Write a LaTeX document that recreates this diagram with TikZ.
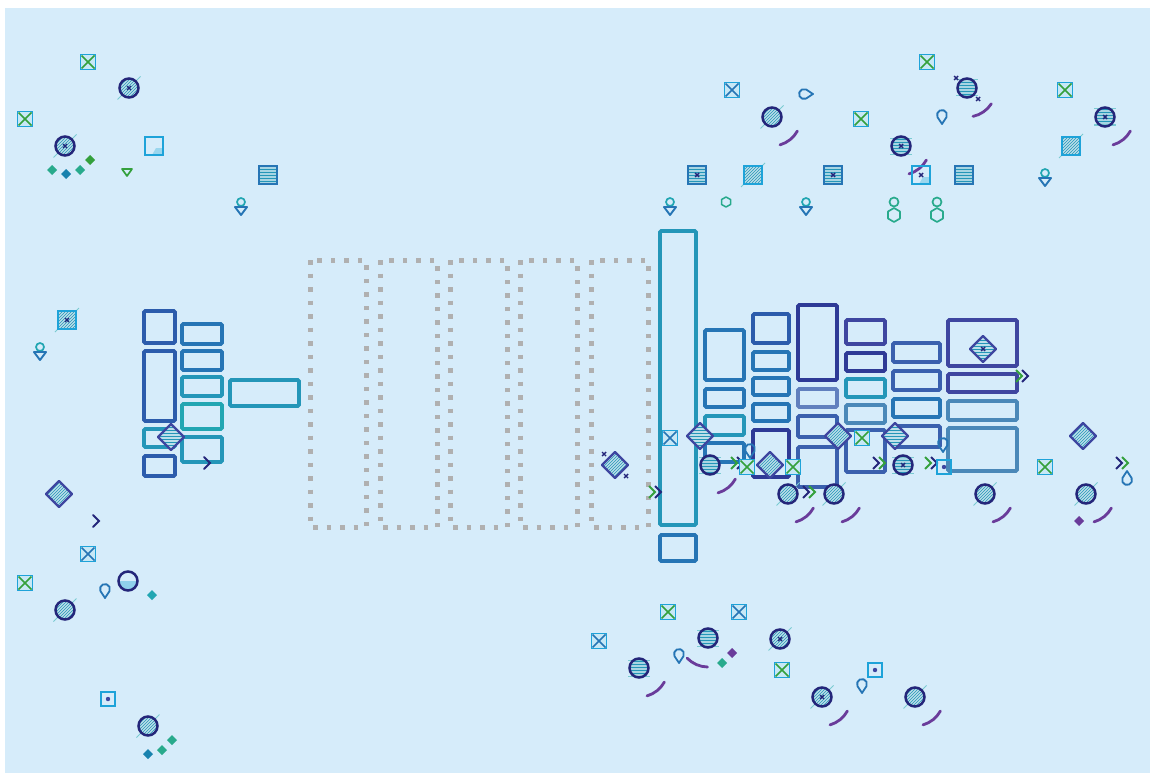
\documentclass[tikz,border=0pt]{standalone}
\usepackage{xcolor}
\usepackage{tikz}
\usetikzlibrary{patterns}
\definecolor{bg}{RGB}{214, 236, 250}
\definecolor{navy}{RGB}{36, 38, 122}
\definecolor{royal}{RGB}{44, 92, 172}
\definecolor{steel}{RGB}{38, 117, 181}
\definecolor{teal}{RGB}{36, 150, 184}
\definecolor{aqua}{RGB}{34, 166, 178}
\definecolor{cobalt}{RGB}{58, 96, 174}
\definecolor{indigo}{RGB}{62, 70, 160}
\definecolor{deep}{RGB}{46, 58, 150}
\definecolor{slate}{RGB}{74, 136, 184}
\definecolor{plum}{RGB}{106, 60, 154}
\definecolor{leaf}{RGB}{52, 160, 60}
\definecolor{jade}{RGB}{40, 170, 140}
\definecolor{cyanbox}{RGB}{30, 163, 217}
\definecolor{dotgrey}{RGB}{176, 176, 176}
\tikzstyle{blk} = [line width=3.6pt, rounded corners=1.2pt]
\tikzstyle{lane} = [draw=dotgrey, line width=5pt, dash pattern=on 4.5pt off 9pt]
\tikzset{
  xmark/.pic={
    \fill[cyanbox!25] (-7.5,-7.5) rectangle (7.5,7.5);
    \draw[cyanbox, line width=1.7pt] (-7.5,-7.5) rectangle (7.5,7.5);
    \draw[#1, line width=1.7pt] (-6.5,-6.5) -- (6.5,6.5) (-6.5,6.5) -- (6.5,-6.5);
  },
  disc/.pic={
    \fill[teal!30] (0,0) circle (9.5);
    \fill[pattern=north east lines, pattern color=teal] (0,0) circle (9.5);
    \draw[aqua!60, line width=1pt] (7,-7) -- (11.5,-11.5) (-7,7) -- (-11.5,11.5);
    \draw[navy, line width=2.5pt] (0,0) circle (9.5);
  },
  bands/.pic={
    \fill[teal!40] (0,0) circle (9.5);
    \fill[pattern=horizontal lines, pattern color=teal] (0,0) circle (9.5);
    \draw[aqua!60, line width=1pt] (-11,-8) -- (11,-8) (-11,8) -- (11,8);
    \draw[navy, line width=2.5pt] (0,0) circle (9.5);
  },
  halfdisc/.pic={
    \fill[cyanbox!50] (9.5,0) arc[start angle=0, end angle=180, radius=9.5] -- cycle;
    \draw[navy, line width=2.5pt] (0,0) circle (9.5);
  },
  speck/.pic={
    \draw[navy, line width=1.4pt] (-2,-2) -- (2,2) (-2,2) -- (2,-2);
  },
  tail/.pic={
    \draw[plum, line width=2.8pt, line cap=round] (#1:29) arc[start angle=#1, delta angle=-45, radius=29];
  },
  gem/.pic={
    \fill[teal!30] (0,-13) -- (13,0) -- (0,13) -- (-13,0) -- cycle;
    \fill[pattern=#1, pattern color=teal] (0,-13) -- (13,0) -- (0,13) -- (-13,0) -- cycle;
    \draw[indigo, line width=2.4pt, line join=round] (0,-13) -- (13,0) -- (0,13) -- (-13,0) -- cycle;
  },
  pics/chev/.style 2 args={code={
    \draw[#1, line width=2pt] (-7,-6) -- (-1,0) -- (-7,6);
    \draw[#2, line width=2pt] (-1,-6) -- (5,0) -- (-1,6);
  }},
  hook/.pic={
    \draw[navy, line width=2pt, line cap=round] (-3,-6) -- (3,0) -- (-3,6);
  },
  pin/.pic={
    \draw[steel, line width=1.8pt, line join=round] (0,8) -- (-4.6,1) arc[start angle=156.5, end angle=383.5, radius=5] -- cycle;
  },
  chip/.pic={
    \fill[#1] (0,-5) -- (5,0) -- (0,5) -- (-5,0) -- cycle;
  },
  vee/.pic={
    \draw[leaf, line width=1.7pt, line join=round] (-5,-3) -- (5,-3) -- (0,4) -- cycle;
  },
  beacon/.pic={
    \draw[aqua, line width=1.7pt] (0,-5) circle (4);
    \draw[steel, line width=1.9pt, line join=round] (-6,0) -- (6,0) -- (0,8) -- cycle;
  },
  twin/.pic={
    \draw[jade, line width=1.7pt] (0,-6) circle (4.5);
    \draw[jade, line width=1.7pt, line join=round] (-6,3.5) -- (0,0) -- (6,3.5) -- (6,10.5) -- (0,14) -- (-6,10.5) -- cycle;
  },
  hexlet/.pic={
    \draw[jade, line width=1.5pt, line join=round] (-4.5,-2.5) -- (0,-5) -- (4.5,-2.5) -- (4.5,2.5) -- (0,5) -- (-4.5,2.5) -- cycle;
  },
  sqhatch/.pic={
    \fill[teal!30] (-9,-9) rectangle (9,9);
    \fill[pattern=north east lines, pattern color=teal] (-9,-9) rectangle (9,9);
    \draw[aqua!60, line width=1pt] (8,-8) -- (12,-12) (-8,8) -- (-12,12);
    \draw[cyanbox, line width=2.3pt] (-9,-9) rectangle (9,9);
  },
  sqband/.pic={
    \fill[teal!40] (-9,-9) rectangle (9,9);
    \fill[pattern=horizontal lines, pattern color=teal] (-9,-9) rectangle (9,9);
    \draw[steel, line width=2.3pt] (-9,-9) rectangle (9,9);
  },
  sqnook/.pic={
    \fill[cyanbox!45] (-2,9) -- (2,2) -- (9,2) -- (9,9) -- cycle;
    \draw[cyanbox, line width=2.3pt] (-9,-9) rectangle (9,9);
  },
  sqdot/.pic={
    \draw[cyanbox, line width=2.1pt] (-7,-7) rectangle (7,7);
    \fill[indigo] (0,0) circle (2.2);
  }
}
\begin{document}
\begin{tikzpicture}[x=1pt, y=-1pt]
    \useasboundingbox (0,0) rectangle (1150,773);
    \fill[bg] (5,8) rectangle (1150,773);

    % Left stack
    \draw[blk, royal] (144,311) rectangle (175,343);
    \draw[blk, royal] (144,351) rectangle (175,421);
    \draw[blk, teal] (144,429) rectangle (175,447);
    \draw[blk, royal] (144,456) rectangle (175,476);
    \draw[blk, steel] (182,324) rectangle (222,344);
    \draw[blk, steel] (182,351) rectangle (222,370);
    \draw[blk, teal] (182,377) rectangle (222,396);
    \draw[blk, aqua] (182,404) rectangle (222,429);
    \draw[blk, teal] (182,437) rectangle (222,462);
    \draw[blk, teal] (230,380) rectangle (299,406);

    % Dotted lanes
    \draw[lane] (310,260) rectangle (366,527);
    \draw[lane] (380,260) rectangle (437,527);
    \draw[lane] (450,260) rectangle (507,527);
    \draw[lane] (520,260) rectangle (577,527);
    \draw[lane] (591,260) rectangle (648,527);

    % Right stacks
    \draw[blk, teal] (660,231) rectangle (696,525);
    \draw[blk, steel] (660,535) rectangle (696,561);
    \draw[blk, steel] (705,330) rectangle (744,380);
    \draw[blk, steel] (705,389) rectangle (744,407);
    \draw[blk, teal] (705,416) rectangle (744,435);
    \draw[blk, steel] (705,443) rectangle (744,462);
    \draw[blk, royal] (753,314) rectangle (789,343);
    \draw[blk, steel] (753,352) rectangle (789,370);
    \draw[blk, steel] (753,378) rectangle (789,395);
    \draw[blk, steel] (753,404) rectangle (789,421);
    \draw[blk, deep] (753,430) rectangle (789,477);
    \draw[blk, deep] (798,305) rectangle (837,380);
    \draw[blk, cobalt!80] (798,389) rectangle (837,407);
    \draw[blk, cobalt] (798,416) rectangle (837,437);
    \draw[blk, cobalt] (798,447) rectangle (837,487);
    \draw[blk, indigo] (846,320) rectangle (885,344);
    \draw[blk, deep] (846,353) rectangle (885,371);
    \draw[blk, teal] (846,379) rectangle (885,397);
    \draw[blk, slate] (846,405) rectangle (885,423);
    \draw[blk, cobalt] (846,430) rectangle (885,472);
    \draw[blk, cobalt] (893,343) rectangle (940,362);
    \draw[blk, cobalt] (893,371) rectangle (940,390);
    \draw[blk, steel] (893,399) rectangle (940,417);
    \draw[blk, cobalt] (893,426) rectangle (940,447);
    \draw[blk, indigo] (948,320) rectangle (1017,366);
    \draw[blk, indigo] (948,374) rectangle (1017,392);
    \draw[blk, slate] (948,401) rectangle (1017,420);
    \draw[blk, slate] (948,428) rectangle (1017,471);

    % Marks, top left
    \pic at (88,62) {xmark=leaf};
    \pic at (129,88) {disc}; \pic at (129,88) {speck};
    \pic at (25,119) {xmark=leaf};
    \pic at (65,146) {disc}; \pic at (65,146) {speck};
    \pic at (154,146) {sqnook};
    \pic at (52,170) {chip=jade};
    \pic at (66,174) {chip=cyanbox!80!black};
    \pic at (80,170) {chip=jade};
    \pic at (90,160) {chip=leaf};
    \pic at (127,172) {vee};
    \pic at (268,175) {sqband};
    \pic at (241,207) {beacon};

    % Marks, left
    \pic at (67,320) {sqhatch}; \pic at (67,320) {speck};
    \pic at (40,352) {beacon};
    \pic at (171,437) {gem=horizontal lines};
    \pic at (207,463) {hook};
    \pic at (59,494) {gem=north east lines};
    \pic at (96,521) {hook};
    \pic at (88,554) {xmark=steel};
    \pic at (25,583) {xmark=leaf};
    \pic at (105,590) {pin};
    \pic at (128,581) {halfdisc};
    \pic at (152,595) {chip=aqua};
    \pic at (65,610) {disc};
    \pic at (108,699) {sqdot};
    \pic at (148,726) {disc};
    \pic at (148,754) {chip=cyanbox!80!black};
    \pic at (162,750) {chip=jade};
    \pic at (172,740) {chip=jade};

    % Marks, top right
    \pic at (732,90) {xmark=steel};
    \pic at (772,117) {disc}; \pic at (772,117) {tail=74};
    \pic[rotate=90] at (805,94) {pin};
    \pic at (861,119) {xmark=leaf};
    \pic at (927,62) {xmark=leaf};
    \pic at (967,88) {bands}; \pic at (967,88) {tail=78};
    \pic at (956,78) {speck}; \pic at (978,99) {speck};
    \pic at (942,116) {pin};
    \pic at (901,146) {bands}; \pic at (901,146) {speck}; \pic at (901,146) {tail=74};
    \pic at (1065,90) {xmark=leaf};
    \pic at (1105,117) {bands}; \pic at (1105,117) {speck}; \pic at (1105,117) {tail=74};
    \pic at (1071,146) {sqhatch};
    \pic at (697,175) {sqband}; \pic at (697,175) {speck};
    \pic at (753,175) {sqhatch};
    \pic at (833,175) {sqband}; \pic at (833,175) {speck};
    \pic at (921,175) {sqnook}; \pic at (921,175) {speck};
    \pic at (964,175) {sqband};
    \pic at (726,202) {hexlet};
    \pic at (670,207) {beacon};
    \pic at (806,207) {beacon};
    \pic at (1045,178) {beacon};
    \pic at (894,208) {twin};
    \pic at (937,208) {twin};

    % Marks, among the stacks
    \pic at (615,465) {gem=north east lines};
    \pic at (604,454) {speck}; \pic at (626,476) {speck};
    \pic at (656,492) {chev={leaf}{navy}};
    \pic at (670,438) {xmark=steel};
    \pic at (700,436) {gem=horizontal lines};
    \pic at (710,465) {bands}; \pic at (710,465) {tail=74};
    \pic at (738,463) {chev={leaf}{navy}};
    \pic at (750,450) {pin};
    \pic at (747,467) {xmark=leaf};
    \pic at (770,465) {gem=north east lines};
    \pic at (793,467) {xmark=leaf};
    \pic at (788,494) {disc}; \pic at (788,494) {tail=74};
    \pic at (810,492) {chev={navy}{leaf}};
    \pic at (834,494) {disc}; \pic at (834,494) {tail=74};
    \pic at (838,436) {gem=north east lines};
    \pic at (862,438) {xmark=leaf};
    \pic at (880,463) {chev={navy}{leaf}};
    \pic at (895,436) {gem=horizontal lines};
    \pic at (903,465) {bands}; \pic at (903,465) {speck};
    \pic at (932,463) {chev={leaf}{navy}};
    \pic at (943,444) {pin};
    \pic at (944,467) {sqdot};
    \pic at (983,349) {gem=horizontal lines}; \pic at (983,349) {speck};
    \pic at (1023,376) {chev={leaf}{navy}};
    \pic at (1083,436) {gem=north east lines};
    \pic at (1045,467) {xmark=leaf};
    \pic at (985,494) {disc}; \pic at (985,494) {tail=74};
    \pic at (1086,494) {disc}; \pic at (1086,494) {tail=74};
    \pic at (1079,521) {chip=plum};
    \pic at (1123,463) {chev={navy}{leaf}};
    \pic[rotate=180] at (1127,479) {pin};

    % Marks, bottom
    \pic at (668,612) {xmark=leaf};
    \pic at (739,612) {xmark=steel};
    \pic at (599,641) {xmark=steel};
    \pic at (639,668) {bands}; \pic at (639,668) {tail=74};
    \pic at (679,655) {pin};
    \pic at (708,638) {bands}; \pic at (708,638) {tail=136};
    \pic at (732,653) {chip=plum};
    \pic at (722,663) {chip=jade};
    \pic at (780,639) {disc}; \pic at (780,639) {speck};
    \pic at (782,670) {xmark=leaf};
    \pic at (875,670) {sqdot};
    \pic at (862,685) {pin};
    \pic at (822,697) {disc}; \pic at (822,697) {speck}; \pic at (822,697) {tail=74};
    \pic at (915,697) {disc}; \pic at (915,697) {tail=74};
\end{tikzpicture}
\end{document}
